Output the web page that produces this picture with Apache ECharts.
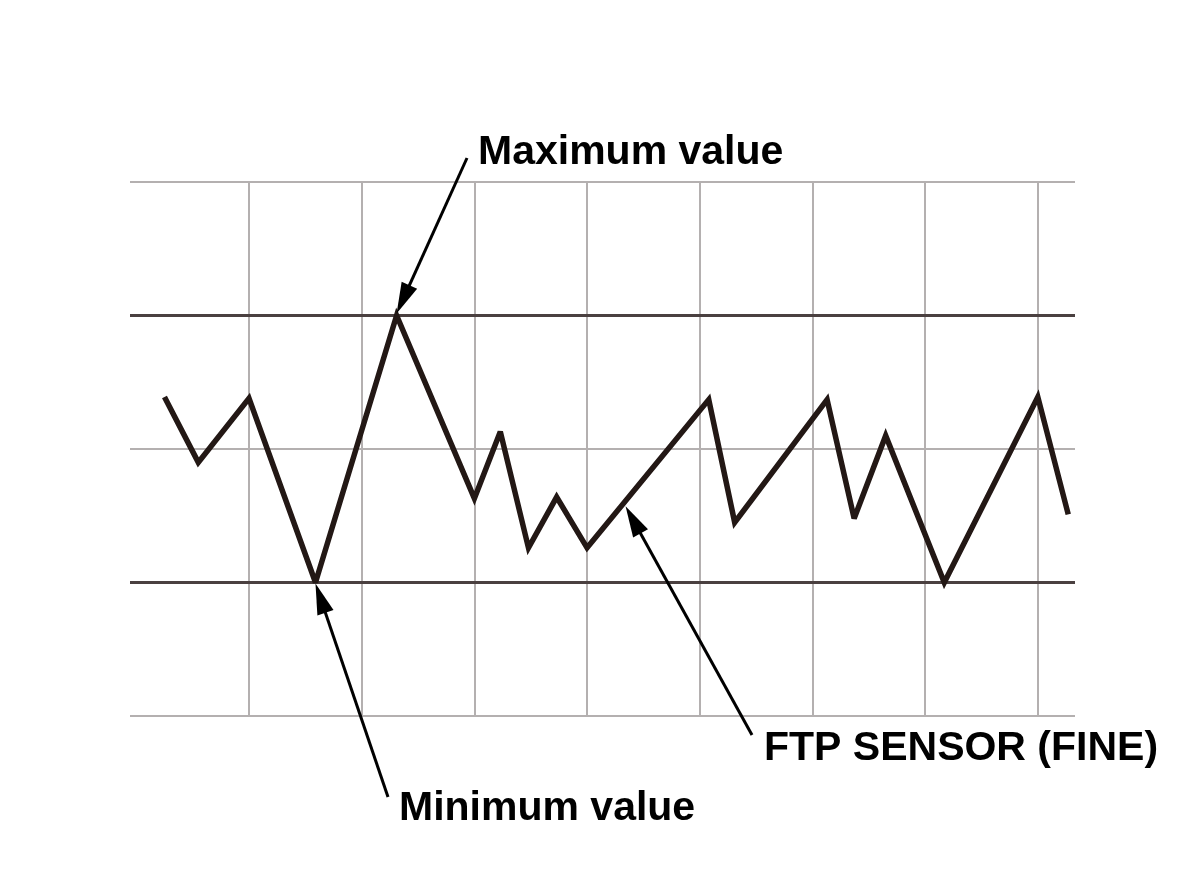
<!DOCTYPE html>
<html>
<head>
<meta charset="utf-8">
<script src="https://cdn.jsdelivr.net/npm/echarts@6/dist/echarts.min.js"></script>
<style>html,body{margin:0;padding:0;background:#fff}#c{width:1200px;height:878px}</style>
</head>
<body>
<div id="c"></div>
<script>
// Data (x in grid divisions, y in grid divisions)
const sensorX = [-0.75, -0.45, 0.0, 0.59, 1.31, 2.0, 2.23, 2.48, 2.73, 3.0, 4.08, 4.31, 5.13, 5.37, 5.65, 6.17, 7.0, 7.27];
const sensorY = [2.39, 1.90, 2.38, 1.0, 3.0, 1.63, 2.13, 1.26, 1.64, 1.26, 2.37, 1.45, 2.37, 1.48, 2.10, 1.0, 2.39, 1.51];
const vGridLines = [0, 1, 2, 3, 4, 5, 6, 7];
const hLightLines = [0, 2, 4];
const maxValue = 3;
const minValue = 1;
const labels = { max: 'Maximum value', min: 'Minimum value', sensor: 'FTP SENSOR (FINE)' };

const chart = echarts.init(document.getElementById('c'), null, { renderer: 'canvas' });
const pts = sensorX.map((x, i) => [x, sensorY[i]]);

const lightStyle = { color: '#b4b0b0', width: 2, type: 'solid' };
const darkStyle = { color: '#4a4040', width: 3, type: 'solid' };

chart.setOption({
  animation: false,
  backgroundColor: '#ffffff',
  grid: { left: 130, right: 125, top: 182, bottom: 162 },
  xAxis: { type: 'value', min: -1.056, max: 7.33, show: false },
  yAxis: { type: 'value', min: 0, max: 4, show: false },
  series: [
    {
      type: 'line', data: [], silent: true, z: 1,
      markLine: {
        silent: true, symbol: 'none', label: { show: false }, animation: false,
        data: [
          ...vGridLines.map(v => ({ xAxis: v, lineStyle: lightStyle })),
          ...hLightLines.map(v => ({ yAxis: v, lineStyle: lightStyle })),
          { yAxis: maxValue, lineStyle: darkStyle },
          { yAxis: minValue, lineStyle: darkStyle }
        ]
      }
    },
    {
      type: 'line', data: pts, z: 5, symbol: 'none', silent: true,
      lineStyle: { color: '#231815', width: 5.5, join: 'miter', miterLimit: 3 }
    }
  ]
});

function arrow(tip, tail, headLen, headW) {
  const dx = tip[0] - tail[0], dy = tip[1] - tail[1];
  const L = Math.hypot(dx, dy), ux = dx / L, uy = dy / L;
  const bx = tip[0] - ux * headLen, by = tip[1] - uy * headLen;
  const px = -uy, py = ux;
  return [
    { type: 'line', shape: { x1: tail[0], y1: tail[1], x2: bx + ux * 2, y2: by + uy * 2 },
      style: { stroke: '#000', lineWidth: 3 }, z: 20 },
    { type: 'polygon', shape: { points: [tip, [bx + px * headW / 2, by + py * headW / 2], [bx - px * headW / 2, by - py * headW / 2]] },
      style: { fill: '#000' }, z: 20 }
  ];
}

const maxIdx = sensorY.indexOf(maxValue);
const minIdx = sensorY.indexOf(minValue);
const pMax = chart.convertToPixel({ gridIndex: 0 }, pts[maxIdx]);
const pMin = chart.convertToPixel({ gridIndex: 0 }, pts[minIdx]);
const pa = chart.convertToPixel({ gridIndex: 0 }, pts[9]);
const pb = chart.convertToPixel({ gridIndex: 0 }, pts[10]);
const pSens = [pa[0] + (pb[0] - pa[0]) * 0.3 + 2, pa[1] + (pb[1] - pa[1]) * 0.3 + 3];

const font = 'bold 41px "Liberation Sans", Arial, sans-serif';
chart.setOption({
  graphic: [
    ...arrow([pMax[0], pMax[1] - 2], [467, 158], 31, 17),
    ...arrow([pMin[0], pMin[1] + 1], [388, 797], 31, 17),
    ...arrow(pSens, [752, 735], 31, 17),
    { type: 'text', left: 478, top: 132, z: 30, style: { text: labels.max, font: font, fill: '#000' } },
    { type: 'text', left: 399, top: 788, z: 30, style: { text: labels.min, font: font, fill: '#000' } },
    { type: 'text', left: 764, top: 728, z: 30, style: { text: labels.sensor, font: font, fill: '#000' } }
  ]
});
</script>
</body>
</html>
